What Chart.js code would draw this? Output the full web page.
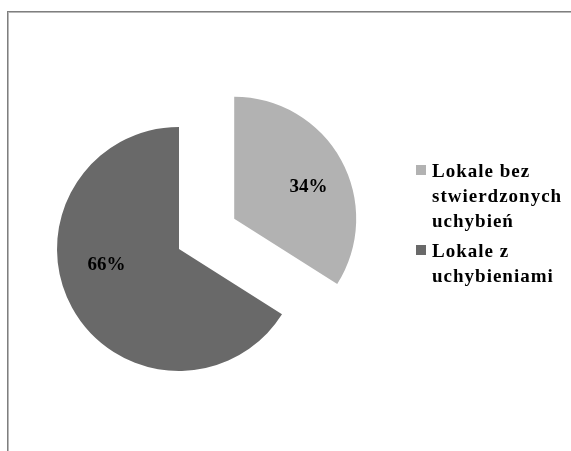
<!DOCTYPE html>
<html>
<head>
<meta charset="utf-8">
<script src="https://cdn.jsdelivr.net/npm/chart.js@4/dist/chart.umd.min.js"></script>
<style>
  html, body { margin: 0; padding: 0; background: #ffffff; }
  #wrap { position: relative; width: 571px; height: 451px; overflow: hidden; background: #fff; }
  #frame { position: absolute; left: 7px; top: 11px; width: 700px; height: 600px;
           border-left: 1px solid #7f7f7f; border-top: 1px solid #7f7f7f;
           box-shadow: inset 1px 1px 0 #b8b8b8; }
  #chartBox { position: absolute; left: 0; top: 0; width: 571px; height: 451px; }
  #legend { position: absolute; left: 416px; top: 158px;
            font-family: "Liberation Serif", "Times New Roman", serif; font-weight: bold;
            font-size: 19px; line-height: 25px; letter-spacing: 1px; color: #000; }
  .item { display: flex; align-items: flex-start; margin-bottom: 5px; }
  .box { width: 10px; height: 10px; margin-top: 7px; margin-right: 6px; flex: none; }
  .txt { width: 145px; }
</style>
</head>
<body>
<div id="wrap">
  <div id="frame"></div>
  <div id="chartBox"><canvas id="c"></canvas></div>
  <div id="legend"></div>
</div>
<script>
// ---- data ----
const categories = ["Lokale bez stwierdzonych uchybień", "Lokale z uchybieniami"];
const values = [34, 66];
const colors = ["#b2b2b2", "#696969"];
// ---- style ----
const explode = [63, 0];            // px the slice is pulled out
const labelRadius = [0.66, 0.61];   // fraction of radius for value labels
const labelTurn = [6, 16];          // degrees label placement nudge (clockwise)

const explodePlugin = {
  id: 'explode',
  afterDatasetUpdate(chart, args) {
    const meta = chart.getDatasetMeta(args.index);
    meta.data.forEach((arc, i) => {
      const d = explode[i] || 0;
      if (!d) return;
      const mid = (arc.startAngle + arc.endAngle) / 2;
      arc.x += Math.cos(mid) * d;
      arc.y += Math.sin(mid) * d;
    });
  }
};

const labelPlugin = {
  id: 'pctLabels',
  afterDatasetsDraw(chart) {
    const ctx = chart.ctx;
    const meta = chart.getDatasetMeta(0);
    const total = values.reduce((a, b) => a + b, 0);
    ctx.save();
    ctx.font = 'bold 19px "Liberation Serif", "Times New Roman", serif';
    ctx.fillStyle = '#000';
    ctx.textAlign = 'center';
    ctx.textBaseline = 'middle';
    meta.data.forEach((arc, i) => {
      const mid = (arc.startAngle + arc.endAngle) / 2 + labelTurn[i] * Math.PI / 180;
      const r = arc.outerRadius * labelRadius[i];
      const x = arc.x + Math.cos(mid) * r;
      const y = arc.y + Math.sin(mid) * r;
      ctx.fillText(Math.round(values[i] / total * 100) + '%', x, y);
    });
    ctx.restore();
  }
};

new Chart(document.getElementById('c'), {
  type: 'pie',
  data: {
    labels: categories,
    datasets: [{
      data: values,
      backgroundColor: colors,
      borderWidth: 0,
      hoverOffset: 0
    }]
  },
  options: {
    responsive: true,
    maintainAspectRatio: false,
    animation: false,
    events: [],
    radius: 122,
    layout: { padding: { left: 0, right: 213, top: 47, bottom: 0 } },
    plugins: {
      legend: { display: false },
      tooltip: { enabled: false }
    }
  },
  plugins: [explodePlugin, labelPlugin]
});

// HTML legend built from the same arrays
const lg = document.getElementById('legend');
categories.forEach((name, i) => {
  const it = document.createElement('div');
  it.className = 'item';
  const b = document.createElement('div');
  b.className = 'box';
  b.style.background = colors[i];
  const t = document.createElement('div');
  t.className = 'txt';
  t.textContent = name;
  it.appendChild(b);
  it.appendChild(t);
  lg.appendChild(it);
});
</script>
</body>
</html>
